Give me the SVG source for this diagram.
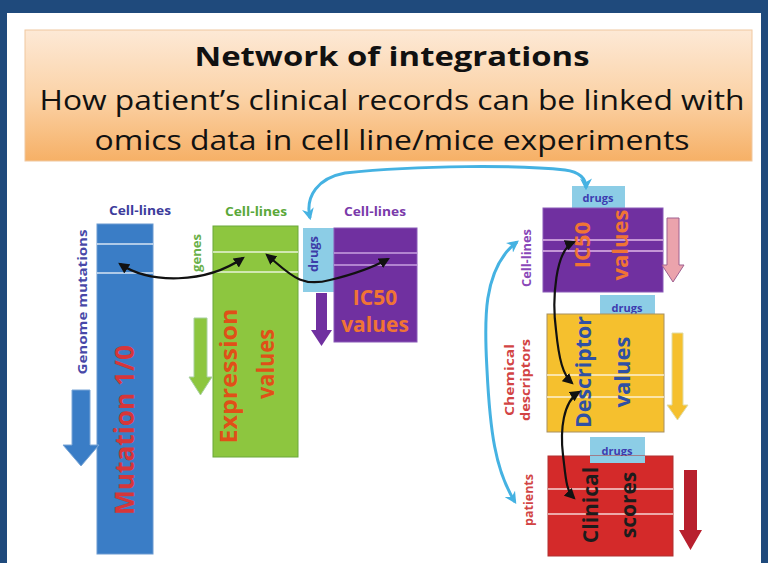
<svg xmlns="http://www.w3.org/2000/svg" width="768" height="563" viewBox="0 0 768 563">
<defs>
<linearGradient id="tg" x1="0" y1="0" x2="0" y2="1">
<stop offset="0" stop-color="#fde9d6"/>
<stop offset="0.5" stop-color="#fbd3a8"/>
<stop offset="1" stop-color="#f6b066"/>
</linearGradient>
<marker id="bk" viewBox="0 0 10 10" refX="8" refY="5" markerWidth="5" markerHeight="5" orient="auto-start-reverse" markerUnits="strokeWidth">
<path d="M0,0 L10,5 L0,10 z" fill="#111"/>
</marker>
<marker id="lb" viewBox="0 0 10 10" refX="8" refY="5" markerWidth="4" markerHeight="4" orient="auto-start-reverse" markerUnits="strokeWidth">
<path d="M0,0 L10,5 L0,10 L3,5 z" fill="#45b2e2"/>
</marker>
</defs>
<style>
.f{font-family:"Open Sans","Liberation Sans",sans-serif;}
.b{font-weight:bold;}
.hl{stroke:#ffffff;stroke-width:1.5;opacity:0.8;}
.blk{fill:none;stroke:#111;stroke-width:2.2;}
.lbl{fill:none;stroke:#45b2e2;stroke-width:3;}
.sm{font-size:12px;font-weight:bold;}
</style>
<rect x="0" y="0" width="768" height="563" fill="#ffffff"/>
<rect x="0" y="0" width="768" height="13" fill="#1f4a7c"/>
<rect x="0" y="0" width="7" height="563" fill="#1f4a7c"/>
<rect x="761" y="0" width="7" height="563" fill="#1f4a7c"/>

<g id="title">
<rect x="25" y="30" width="727" height="131" fill="url(#tg)" stroke="#f0c8a0" stroke-width="1"/>
<text class="f b" x="392" y="66" font-size="27" text-anchor="middle" fill="#111" textLength="395" lengthAdjust="spacingAndGlyphs">Network of integrations</text>
<text class="f" x="392" y="110" font-size="28" text-anchor="middle" fill="#111" textLength="705" lengthAdjust="spacingAndGlyphs">How patient’s clinical records can be linked with</text>
<text class="f" x="392" y="150" font-size="28" text-anchor="middle" fill="#111" textLength="595" lengthAdjust="spacingAndGlyphs">omics data in cell line/mice experiments</text>
</g>

<g id="mutation">
<text class="f sm" x="140" y="215" text-anchor="middle" fill="#3c3c9c" textLength="62" lengthAdjust="spacingAndGlyphs">Cell-lines</text>
<rect x="97" y="224" width="56" height="330" fill="#3a7dc6" stroke="#6a9ad0" stroke-width="1"/>
<line class="hl" x1="97" y1="244" x2="153" y2="244"/>
<line class="hl" x1="97" y1="273" x2="153" y2="273"/>
<text class="f b" transform="translate(134,430) rotate(-90)" font-size="26" text-anchor="middle" fill="#d6363a" textLength="170" lengthAdjust="spacingAndGlyphs">Mutation  1/0</text>
<text class="f sm" transform="translate(87,302) rotate(-90)" text-anchor="middle" fill="#4848a8" textLength="145" lengthAdjust="spacingAndGlyphs">Genome mutations</text>
<polygon points="72,390 90,390 90,445 99,445 81,466 63,445 72,445" fill="#3a7dc6" stroke="#7aa6d6" stroke-width="1"/>
</g>

<g id="expression">
<text class="f sm" x="256" y="216" text-anchor="middle" fill="#5aa83a" textLength="62" lengthAdjust="spacingAndGlyphs">Cell-lines</text>
<rect x="213" y="226" width="85" height="231" fill="#8dc63f" stroke="#6aa83a" stroke-width="1"/>
<line class="hl" x1="213" y1="252" x2="298" y2="252" opacity="0.6"/>
<line class="hl" x1="213" y1="272" x2="298" y2="272" opacity="0.6"/>
<text class="f b" transform="translate(237,376) rotate(-90)" font-size="24" text-anchor="middle" fill="#e05018" textLength="135" lengthAdjust="spacingAndGlyphs">Expression</text>
<text class="f b" transform="translate(274,364) rotate(-90)" font-size="24" text-anchor="middle" fill="#e05018" textLength="70" lengthAdjust="spacingAndGlyphs">values</text>
<text class="f sm" transform="translate(201,253) rotate(-90)" text-anchor="middle" fill="#6ab04a" textLength="38" lengthAdjust="spacingAndGlyphs">genes</text>
<polygon points="194,318 207,318 207,377 212,377 200.5,395 189,377 194,377" fill="#8dc63f" stroke="#a8d0a0" stroke-width="1"/>
</g>

<g id="ic50-left">
<text class="f sm" x="375" y="216" text-anchor="middle" fill="#7a3aaa" textLength="62" lengthAdjust="spacingAndGlyphs">Cell-lines</text>
<rect x="303" y="228" width="32" height="64" fill="#8ccde6"/>
<text class="f sm" transform="translate(318,254) rotate(-90)" text-anchor="middle" fill="#3c3ca8" font-size="11" textLength="36" lengthAdjust="spacingAndGlyphs">drugs</text>
<rect x="334" y="228" width="83" height="114" fill="#7030a0" stroke="#8a5ab8" stroke-width="1"/>
<line x1="334" y1="253" x2="417" y2="253" stroke="#c8a0e0" stroke-width="1.5"/>
<line x1="334" y1="265" x2="417" y2="265" stroke="#c8a0e0" stroke-width="1.5"/>
<text class="f b" x="375" y="305" font-size="21" text-anchor="middle" fill="#f07434">IC50</text>
<text class="f b" x="375" y="332" font-size="21" text-anchor="middle" fill="#f07434">values</text>
<polygon points="316,293 327,293 327,330 332,330 321.5,346 311,330 316,330" fill="#7030a0"/>
</g>

<g id="ic50-right">
<rect x="572" y="186" width="53" height="22" fill="#8ccde6"/>
<text class="f" x="598" y="202" font-size="11" font-weight="bold" text-anchor="middle" fill="#3c3cb0">drugs</text>
<rect x="543" y="208" width="120" height="84" fill="#7030a0" stroke="#8a5ab8" stroke-width="1"/>
<line x1="543" y1="240" x2="663" y2="240" stroke="#e0b8e8" stroke-width="1.5"/>
<line x1="543" y1="251" x2="663" y2="251" stroke="#e0b8e8" stroke-width="1.5"/>
<text class="f b" transform="translate(590,245) rotate(-90)" font-size="22" text-anchor="middle" fill="#f07434">IC50</text>
<text class="f b" transform="translate(628,245) rotate(-90)" font-size="22" text-anchor="middle" fill="#f07434">values</text>
<text class="f sm" transform="translate(531,258) rotate(-90)" text-anchor="middle" fill="#8a48b8" textLength="58" lengthAdjust="spacingAndGlyphs">Cell-lines</text>
<polygon points="667,218 679,218 679,265 684,265 673,282 662,265 667,265" fill="#eba3ac" stroke="#a06090" stroke-width="1"/>
</g>

<g id="descriptor">
<rect x="600" y="295" width="55" height="24" fill="#8ccde6"/>
<text class="f" x="627" y="312" font-size="11" font-weight="bold" text-anchor="middle" fill="#3c3cb0">drugs</text>
<rect x="547" y="314" width="117" height="118" fill="#f5c02e" stroke="#a89060" stroke-width="1"/>
<line class="hl" x1="547" y1="375" x2="664" y2="375" opacity="0.7"/>
<line class="hl" x1="547" y1="397" x2="664" y2="397" opacity="0.7"/>
<text class="f b" transform="translate(591,372) rotate(-90)" font-size="22" text-anchor="middle" fill="#2f50a4" textLength="112" lengthAdjust="spacingAndGlyphs">Descriptor</text>
<text class="f b" transform="translate(630,372) rotate(-90)" font-size="22" text-anchor="middle" fill="#2f50a4">values</text>
<text class="f sm" transform="translate(514,380) rotate(-90)" text-anchor="middle" fill="#d24444" textLength="72" lengthAdjust="spacingAndGlyphs">Chemical</text>
<text class="f sm" transform="translate(530,380) rotate(-90)" text-anchor="middle" fill="#d24444" textLength="82" lengthAdjust="spacingAndGlyphs">descriptors</text>
<polygon points="672,333 683,333 683,405 688,405 677.5,420 667,405 672,405" fill="#f5c02e" stroke="#e0dca8" stroke-width="1"/>
</g>

<g id="clinical">
<rect x="590" y="437" width="55" height="26" fill="#8ccde6"/>
<text class="f" x="617" y="455" font-size="11" font-weight="bold" text-anchor="middle" fill="#3c3cb0">drugs</text>
<rect x="548" y="456" width="125" height="100" fill="#d42a2a" stroke="#b03030" stroke-width="1"/>
<rect x="590" y="456" width="55" height="7" fill="#8ccde6"/>
<line class="hl" x1="548" y1="489" x2="673" y2="489" opacity="0.7"/>
<line class="hl" x1="548" y1="514" x2="673" y2="514" opacity="0.7"/>
<text class="f b" transform="translate(598,505) rotate(-90)" font-size="21" text-anchor="middle" fill="#1c1c1c">Clinical</text>
<text class="f b" transform="translate(636,505) rotate(-90)" font-size="21" text-anchor="middle" fill="#1c1c1c">scores</text>
<text class="f sm" transform="translate(533,500) rotate(-90)" text-anchor="middle" fill="#d24444" textLength="52" lengthAdjust="spacingAndGlyphs">patients</text>
<polygon points="684,470 697,470 697,530 702,530 690.5,550 679,530 684,530" fill="#b8202e"/>
</g>

<g id="connectors">
<path class="blk" d="M120,264 C150,284 205,284 243,258" marker-start="url(#bk)" marker-end="url(#bk)"/>
<path class="blk" d="M267,255 C290,274 300,288 330,280 C355,274 372,268 388,259" marker-start="url(#bk)" marker-end="url(#bk)"/>
<path class="blk" d="M574,242 C555,250 552,300 556,330 C559,360 563,375 572,383" marker-start="url(#bk)" marker-end="url(#bk)"/>
<path class="blk" d="M579,392 C563,402 560,430 563,455 C566,480 566,490 574,498" marker-start="url(#bk)" marker-end="url(#bk)"/>
<path class="lbl" d="M310,218 C305,196 318,178 345,173 C420,165 520,165 565,170 C580,172 586,178 586,188" marker-start="url(#lb)" marker-end="url(#lb)"/>
<path class="lbl" d="M517,242 C480,270 485,330 487,370 C490,430 495,470 515,502" marker-start="url(#lb)" marker-end="url(#lb)"/>
</g>
</svg>
